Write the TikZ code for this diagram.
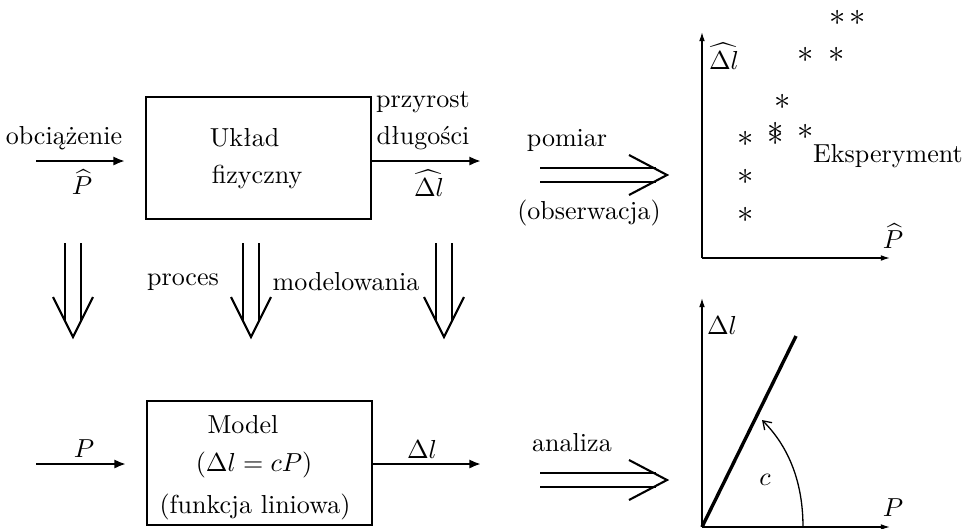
\documentclass[tikz,border=0pt]{standalone}
\usepackage{fontspec}
\usetikzlibrary{arrows,arrows.meta,calc}
\tikzset{>=latex}
\tikzstyle{block}=[rectangle,draw,line width=0.9pt,minimum width=3.04cm,inner sep=0pt]
\tikzstyle{sig}=[line width=0.9pt,-{Latex[length=4.5pt,width=3.6pt]}]
\tikzstyle{dbl}=[line width=0.8pt]
\tikzstyle{axis}=[line width=0.5pt,-{Latex[length=3.5pt,width=2.2pt]}]
\tikzstyle{pt}=[inner sep=0pt,scale=1.25]

\begin{document}
\begin{tikzpicture}[x=0.0135cm,y=-0.0135cm,inner sep=1mm]
	\useasboundingbox (0,0) rectangle (970,528);

	% uklad fizyczny
	\node[block, minimum height=1.65cm] (sys) at (258.5,158) {};
	\node[anchor=west] (sys1) at (202,138) {Układ};
	\node[anchor=west] (sys2) at (204,177) {fizyczny};
	\coordinate (in1a) at (36,161);
	\coordinate (in1b) at (125,161);
	\coordinate (out1) at (481,161);
	\draw[sig] (in1a) -- (in1b);
	\draw[sig] (sys.east |- out1) -- (out1);
	\node (load) at (64,138) {obciążenie};
	\node (Phat) at (82,182) {$\widehat{P}$};
	\node (incr1) at (423,102) {przyrost};
	\node (incr2) at (423,138) {długości};
	\node (dlhat) at (429,183) {$\widehat{\Delta l}$};

	% model
	\node[block, minimum height=1.67cm] (mod) at (259.5,463) {};
	\node (mod1) at (243,425) {Model};
	\node (mod2) at (254,465) {$(\Delta l = cP)$};
	\node (mod3) at (255,507) {(funkcja liniowa)};
	\coordinate (in2a) at (36,464);
	\coordinate (in2b) at (126,464);
	\coordinate (out2) at (481,464);
	\draw[sig] (in2a) -- (in2b);
	\draw[sig] (mod.east |- out2) -- (out2);
	\node (P) at (84,449) {$P$};
	\node (dl) at (422,449) {$\Delta l$};

	% proces modelowania
	\foreach \i/\x in {1/73,2/251,3/444} {
		\coordinate (m\i a) at (\x,243);
		\coordinate (m\i b) at (\x,337);
		\draw[dbl] ($(m\i a)+(-8,0)$) -- ($(m\i b)+(-8,-16)$);
		\draw[dbl] ($(m\i a)+(8,0)$) -- ($(m\i b)+(8,-16)$);
		\draw[dbl] ($(m\i b)+(-20,-40)$) -- (m\i b) -- ($(m\i b)+(20,-40)$);
	}
	\node (proc) at (183,282) {proces};
	\node (modl) at (346,282) {modelowania};

	% pomiar / analiza
	\foreach \i/\y in {1/175,2/480} {
		\coordinate (h\i a) at (540,\y);
		\coordinate (h\i b) at (667,\y);
		\draw[dbl] ($(h\i a)+(0,-7)$) -- ($(h\i b)+(-11,-7)$);
		\draw[dbl] ($(h\i a)+(0,7)$) -- ($(h\i b)+(-11,7)$);
		\draw[dbl] ($(h\i b)+(-38,-20)$) -- (h\i b) -- ($(h\i b)+(-38,20)$);
	}
	\node (meas) at (567,140) {pomiar};
	\node (obs) at (589,213) {(obserwacja)};
	\node (anl) at (572,443) {analiza};

	% eksperyment
	\coordinate (o1) at (702,258);
	\coordinate (y1) at (702,32);
	\coordinate (x1) at (890,258);
	\draw[axis] (o1) -- (y1);
	\draw[axis] (o1) -- (x1);
	\node (ax1y) at (724,56) {$\widehat{\Delta l}$};
	\node (ax1x) at (893,236) {$\widehat{P}$};
	\foreach \x/\y [count=\i] in {838/18,858/18,806/55,837/55,783/102,776/130,776/138,806/132,746/139,746/177,746/215}
		\node[pt] (s\i) at (\x,\y) {$\ast$};
	\node (exp) at (888,156) {Eksperyment};

	% analiza - wykres
	\coordinate (o2) at (702,527);
	\coordinate (y2) at (702,298);
	\coordinate (x2) at (890,527);
	\coordinate (lin) at (796,336);
	\draw[axis] (o2) -- (y2);
	\draw[axis] (o2) -- (x2);
	\draw[line width=1.3pt] (o2) -- (lin);
	\coordinate (c1) at (803,527);
	\coordinate (c2) at (762,420);
	\draw[line width=0.5pt,-{Straight Barb[length=3pt,width=4pt]}] (c1) .. controls (803,478) and (786,444) .. (c2);
	\node (ax2y) at (722,325) {$\Delta l$};
	\node (ax2x) at (893,508) {$P$};
	\node (clab) at (765,480) {$c$};
\end{tikzpicture}
\end{document}
